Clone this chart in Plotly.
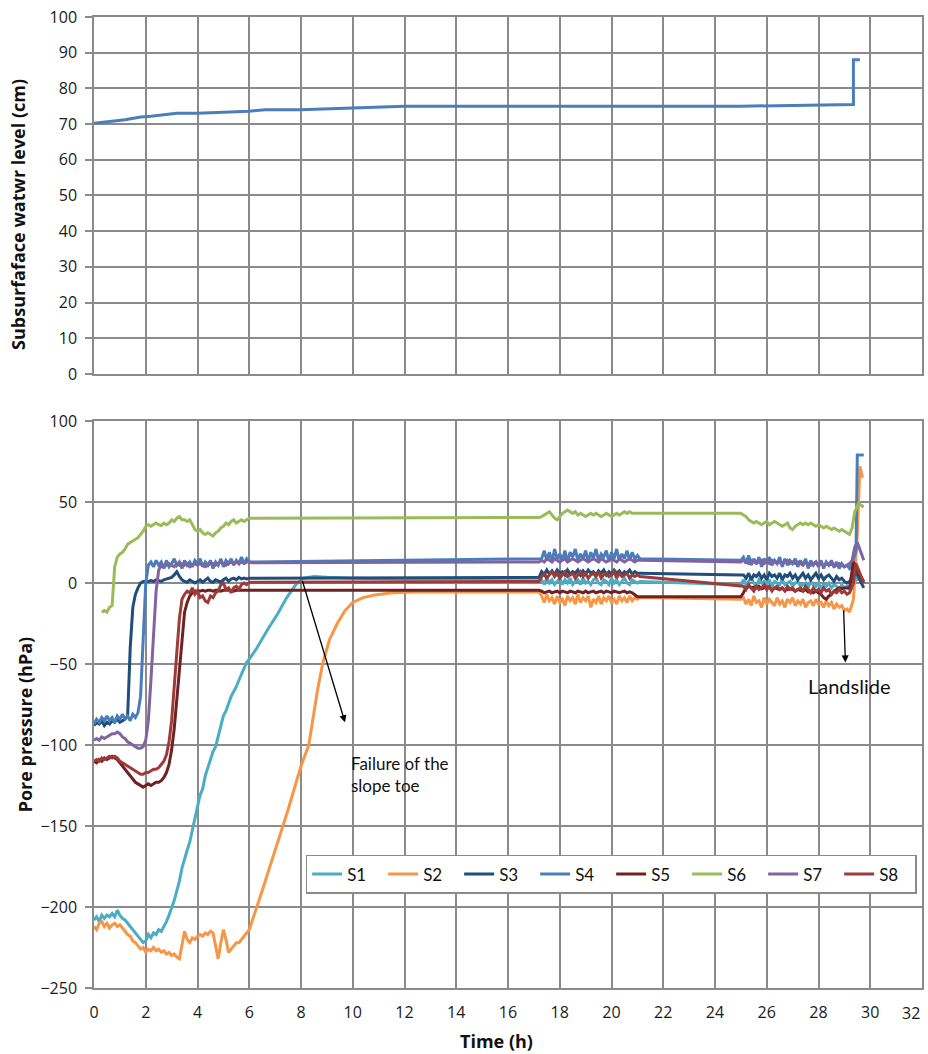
import plotly.graph_objects as go
from plotly.subplots import make_subplots

# ---------------- time bases (h) ----------------
T_EARLY = [0.0, 0.1, 0.2, 0.3, 0.4, 0.5, 0.6, 0.7, 0.8, 0.9,
           1.0, 1.1, 1.2, 1.3, 1.4, 1.5, 1.6, 1.7, 1.8, 1.9,
           2.0, 2.1, 2.2, 2.3, 2.4, 2.5, 2.6, 2.7, 2.8, 2.9,
           3.0, 3.1, 3.2, 3.3, 3.4, 3.5, 3.6, 3.7, 3.8, 3.9,
           4.0, 4.1, 4.2, 4.3, 4.4, 4.5, 4.6, 4.7, 4.8, 4.9,
           5.0, 5.1, 5.2, 5.3, 5.4, 5.5, 5.6, 5.7, 5.8, 5.9,
           6.0]
T_MID = [17.3, 17.4, 17.5, 17.6, 17.7, 17.8, 17.9, 18.0, 18.1, 18.2,
         18.3, 18.4, 18.5, 18.6, 18.7, 18.8, 18.9, 19.0, 19.1, 19.2,
         19.3, 19.4, 19.5, 19.6, 19.7, 19.8, 19.9, 20.0, 20.1, 20.2,
         20.3, 20.4, 20.5, 20.6, 20.7, 20.8, 20.9, 21.0]
T_LATE = [25.1, 25.2, 25.3, 25.4, 25.5, 25.6, 25.7, 25.8, 25.9, 26.0,
          26.1, 26.2, 26.3, 26.4, 26.5, 26.6, 26.7, 26.8, 26.9, 27.0,
          27.1, 27.2, 27.3, 27.4, 27.5, 27.6, 27.7, 27.8, 27.9, 28.0,
          28.1, 28.2, 28.3, 28.4, 28.5, 28.6, 28.7, 28.8, 28.9, 29.0,
          29.1, 29.2]

# x-axis ticks of the time axis (the last one sits at the right edge and is
# written right-aligned so it stays inside the page)
TIME_TICKS = [0, 2, 4, 6, 8, 10, 12, 14, 16, 18, 20, 22, 24, 26, 28, 30]
TIME_LABELS = ["0", "2", "4", "6", "8", "10", "12", "14", "16", "18",
               "20", "22", "24", "26", "28", "30"]
TIME_END = 32

# ---------------- subsurface water level (cm) ----------------
WL_T = [0.0, 1.2, 1.8, 2.2, 3.2, 4.0, 6.0, 6.6, 8.0, 10.0, 12.0, 25.0, 29.35, 29.35, 29.6]
WL = [70.2, 71.2, 72.0, 72.2, 73.0, 73.0, 73.6, 74.0, 74.0, 74.5, 75.0, 75.0, 75.5, 88.0, 88.0]

# ---------------- pore pressure (hPa) ----------------
S1_early = [-208, -206, -209, -205, -207, -205, -206, -204, -206, -202,
            -205, -207, -208, -210, -212, -214, -216, -218, -220, -222,
            -221, -217, -219, -216, -217, -214, -215, -212, -209, -205,
            -201, -196, -190, -184, -176, -170, -165, -160, -152, -145,
            -138, -131, -127, -119, -114, -110, -104, -101, -95, -89,
            -82, -79, -74, -70, -67, -64, -60, -56, -52, -49,
            -47]
S1_rise_t = [6.3, 6.7, 7.1, 7.45, 7.8, 8.1, 8.5, 9.0, 10.0, 12.0, 17.2]
S1_rise = [-40, -29, -19, -9, -1, 3, 4, 3.5, 3, 2.5, 3]
S1_mid = [2, -1, 3, 0, 2, -1, 1, 3, -1, 2,
          0, 3, -1, 1, 2, -1, 3, 0, 1, -1,
          2, 3, 0, -1, 2, 1, -1, 3, 0, 2,
          -1, 1, 3, 0, -1, 2, 1, 0]
S1_gap_t = [21.1, 25.0]
S1_gap = [1, -1]
S1_late = [2, -1, 1, 3, 0, -2, 2, 0, 1, -1,
           2, -2, 1, 0, -1, 2, -1, 0, 1, -2,
           0, 1, -2, -1, 0, -3, 1, -1, -2, 0,
           -3, -1, -2, 0, -3, -1, -2, -4, -1, -3,
           -2, -4]
S1_end_t = [29.3, 29.4, 29.5]
S1_end = [-3, 5, 1]

S2_early = [-212, -214, -210, -209, -212, -210, -213, -211, -210, -212,
            -211, -213, -215, -217, -218, -221, -222, -224, -226, -225,
            -228, -226, -227, -225, -227, -226, -228, -227, -229, -228,
            -230, -229, -231, -232, -224, -215, -220, -222, -219, -220,
            -218, -217, -218, -216, -217, -215, -216, -225, -232, -222,
            -214, -220, -228, -226, -224, -222, -222, -220, -218, -216,
            -214]
S2_rise_t = [6.5, 7.0, 7.5, 8.0, 8.3, 8.45, 8.65, 8.85, 9.1, 9.4, 9.7,
             10.0, 10.4, 10.8, 11.5, 12.5, 17.2]
S2_rise = [-190, -165, -140, -113, -100, -85, -65, -49, -35, -25, -17,
           -12, -9, -7.5, -6, -5.5, -5.5]
S2_mid = [-8, -12, -7, -11, -9, -13, -8, -12, -10, -14,
          -8, -11, -9, -13, -7, -12, -9, -11, -8, -15,
          -10, -12, -8, -13, -9, -11, -8, -12, -10, -13,
          -8, -11, -9, -12, -8, -11, -9, -10]
S2_gap_t = [21.1, 25.0]
S2_gap = [-9, -10]
S2_late = [-9, -13, -10, -14, -8, -12, -11, -15, -9, -13,
           -10, -12, -14, -9, -13, -11, -15, -10, -12, -9,
           -14, -11, -13, -10, -15, -12, -11, -14, -10, -13,
           -12, -15, -11, -14, -12, -16, -13, -15, -14, -17,
           -16, -18]
S2_end_t = [29.35, 29.5, 29.6, 29.7]
S2_end = [-10, 30, 72, 65]

S3_early = [-88, -86, -87, -85, -88, -86, -87, -85, -86, -84,
            -86, -85, -84, -82, -40, -15, -7, -3, 0, 1,
            1, 1, 1.5, 1, 2, 1.5, 1, 2, 2.5, 3,
            3.5, 5, 7, 4, 2, 1, 0.5, 2, 1, 0,
            1, 2, 0.5, 1.5, 3, 1, 0.5, 2, 1, 0.5,
            2, 3, 1, 2.5, 3, 2, 3.5, 2.5, 3, 2.5,
            3]
S3_rise_t = [6.1, 17.2]
S3_rise = [3, 3.5]
S3_mid = [7, 5, 8, 5.5, 7.5, 5, 8, 6, 7, 5,
          8, 5.5, 7, 6, 8, 5, 7.5, 5.5, 8, 6,
          7, 5, 7.5, 6, 8, 5, 7, 5.5, 8, 6,
          7.5, 5, 7, 6, 8, 5.5, 7, 6]
S3_gap_t = [21.1, 25.0]
S3_gap = [6, 5]
S3_late = [5, 3, 6, 2, 5, 4, 6, 3, 5, 2,
           6, 4, 5, 3, 6, 2, 5, 4, 6, 3,
           5, 2, 4, 6, 3, 5, 2, 4, 6, 3,
           5, 2, 4, 5, 3, 1, 4, 2, 3, 1,
           0, 1]
S3_end_t = [29.3, 29.4, 29.5, 29.6, 29.75]
S3_end = [3, 8, 5, 2, -3]

S4_early = [-87, -84, -86, -83, -85, -82, -85, -83, -86, -82,
            -84, -81, -84, -82, -85, -81, -83, -80, -70, -30,
            0, 11, 13, 10, 14, 11, 13, 9, 14, 10,
            12, 15, 11, 13, 9, 14, 11, 13, 10, 14,
            12, 15, 10, 13, 11, 14, 9, 13, 11, 15,
            10, 14, 12, 15, 11, 14, 12, 16, 12, 15,
            13]
S4_rise_t = [6.1, 17.2]
S4_rise = [13, 15]
S4_mid = [15, 20, 14, 19, 13, 21, 15, 18, 14, 20,
          13, 19, 16, 21, 14, 18, 15, 20, 13, 19,
          15, 21, 14, 18, 16, 20, 13, 19, 15, 21,
          14, 18, 15, 20, 14, 19, 15, 17]
S4_gap_t = [21.1, 25.0]
S4_gap = [15, 14]
S4_late = [16, 12, 17, 11, 15, 12, 16, 10, 15, 13,
           16, 11, 14, 12, 16, 10, 15, 11, 14, 12,
           15, 10, 14, 11, 15, 9, 14, 11, 13, 10,
           14, 9, 13, 11, 14, 10, 13, 9, 12, 10,
           11, 9]
S4_end_t = [29.3, 29.45, 29.5, 29.75]
S4_end = [12, 20, 79, 79]

S5_early = [-110, -111, -109, -110, -108, -109, -108, -107, -108, -109,
            -111, -113, -115, -117, -119, -121, -123, -124, -125, -126,
            -125, -124, -125, -124, -123, -123, -122, -120, -117, -112,
            -103, -90, -72, -50, -32, -18, -12, -8, -6, -5,
            -5, -5, -4.5, -5, -4.5, -4.5, -5, -4.5, -4.5, -5,
            -4.5, -4.5, -4.5, -4.5, -5, -4.5, -4.5, -4.5, -4.5, -4.5,
            -4.5]
S5_rise_t = [6.1, 17.2]
S5_rise = [-4.5, -4.5]
S5_mid = [-5, -6, -5.5, -5, -6, -5.5, -5, -6, -5, -5.5,
          -6, -5, -5.5, -6, -5, -5.5, -6, -5, -6, -5.5,
          -5, -6, -5.5, -5, -6, -5, -5.5, -6, -5, -5.5,
          -6, -5.5, -5, -6, -5.5, -6, -7, -8.5]
S5_gap_t = [21.1, 25.0]
S5_gap = [-8.5, -8.5]
S5_late = [-6, -3, -2, -3, -2.5, -3, -2, -3.5, -3, -2.5,
           -3, -4, -3, -3.5, -4, -3, -4.5, -4, -3.5, -4,
           -5, -4, -4.5, -5, -4, -5.5, -5, -6, -5, -6,
           -7, -9, -10, -8, -7, -5, -4, -3, -3.5, -3,
           -3, -3]
S5_end_t = [29.35, 29.5, 29.6, 29.75]
S5_end = [13, 8, 5, 1]

S6_early = [None, None, None, -18, -17, -18, -15, -14, 10, 16,
            18, 19, 21, 24, 25, 26, 27, 28, 30, 32,
            35, 36, 35, 36, 37, 36, 35.5, 37, 36, 37,
            39, 38, 40, 41, 39, 39, 38, 39, 36, 33,
            32, 33, 31, 30, 31, 30, 29, 31, 32, 34,
            35, 37, 36, 38, 39, 37, 38, 39, 38, 39,
            40]
S6_rise_t = [6.1, 17.2]
S6_rise = [40, 40.5]
S6_mid = [41, 42, 43, 44, 42, 40, 39, 41, 43, 44,
          45, 44, 43, 44, 42, 43, 42, 41, 42, 43,
          42, 43, 42, 41, 42, 43, 42, 41, 42, 43,
          42, 43, 44, 43, 44, 43, 43, 43]
S6_gap_t = [21.1, 25.0]
S6_gap = [43, 43]
S6_late = [42, 41, 39, 38, 37, 38, 37, 36, 37, 38,
           36, 37, 38, 37, 36, 35, 36, 37, 34, 33,
           35, 36, 37, 36, 37, 36, 37, 36, 35, 36,
           35, 34, 35, 34, 33, 34, 33, 32, 33, 32,
           31, 30]
S6_end_t = [29.3, 29.4, 29.55, 29.75]
S6_end = [34, 44, 49, 47]

S7_early = [-97, -96, -97, -95, -96, -95, -94, -93, -93, -92,
            -93, -95, -96, -98, -99, -100, -101, -102, -102, -101,
            -97, -85, -60, -30, -5, 8, 11, 10, 11, 12,
            11, 10, 12, 11, 12, 11, 12, 10, 11, 12,
            11, 12, 11, 10, 11, 12, 12, 11, 12, 13,
            12, 11, 12, 13, 12, 13, 12, 13, 12, 13,
            13]
S7_rise_t = [6.1, 17.2]
S7_rise = [12.5, 13]
S7_mid = [14, 13, 15, 14, 13, 15, 14, 13, 14, 15,
          13, 14, 15, 14, 13, 14, 15, 14, 13, 14,
          15, 14, 13, 15, 14, 13, 14, 15, 14, 13,
          15, 14, 13, 14, 15, 14, 13, 14]
S7_gap_t = [21.1, 25.0]
S7_gap = [14, 13]
S7_late = [14, 13, 12, 14, 13, 12, 13, 14, 12, 13,
           12, 14, 13, 12, 13, 12, 13, 14, 12, 13,
           12, 13, 12, 11, 13, 12, 11, 12, 13, 11,
           12, 11, 12, 11, 12, 10, 11, 12, 11, 10,
           11, 12]
S7_end_t = [29.3, 29.4, 29.5, 29.6, 29.75]
S7_end = [14, 22, 25, 20, 14]

S8_early = [-110, -109, -110, -108, -109, -108, -107, -108, -107, -108,
            -110, -111, -112, -113, -114, -115, -116, -117, -118, -118,
            -117, -117, -116, -115, -115, -114, -112, -110, -106, -98,
            -85, -65, -42, -22, -10, -7, -5, -6, -3, -7,
            -5, -9, -8, -11, -12, -8, -9, -6, -5, -1,
            0, -4, -3, -6, -3, -2, -4, -1, 0, -1,
            0.5]
S8_rise_t = [6.1, 17.2]
S8_rise = [0.5, 1]
S8_mid = [4, 6, 3, 5, 7, 4, 6, 3, 5, 7,
          4, 5, 6, 3, 5, 7, 4, 6, 3, 5,
          6, 4, 7, 3, 5, 6, 4, 5, 7, 3,
          6, 4, 5, 6, 3, 5, 4, 5]
S8_gap_t = [21.1, 25.0]
S8_gap = [4, -2]
S8_late = [-2, -4, -1, -3, -5, -2, -4, -3, -1, -4,
           -2, -5, -3, -2, -4, -3, -5, -2, -4, -3,
           -5, -4, -3, -5, -2, -4, -6, -3, -5, -4,
           -6, -3, -5, -4, -7, -5, -6, -4, -6, -5,
           -7, -6]
S8_end_t = [29.35, 29.45, 29.6, 29.75]
S8_end = [0, 12, 6, 0]

NAMES = ["S1", "S2", "S3", "S4", "S5", "S6", "S7", "S8"]
COLORS = ["#4BACC6", "#F79646", "#1F4E7A", "#4A7EBB",
          "#702222", "#9BBB59", "#8064A2", "#9E3B39"]

SERIES = {
    "S1": (S1_early, S1_rise_t, S1_rise, S1_mid, S1_gap_t, S1_gap, S1_late, S1_end_t, S1_end),
    "S2": (S2_early, S2_rise_t, S2_rise, S2_mid, S2_gap_t, S2_gap, S2_late, S2_end_t, S2_end),
    "S3": (S3_early, S3_rise_t, S3_rise, S3_mid, S3_gap_t, S3_gap, S3_late, S3_end_t, S3_end),
    "S4": (S4_early, S4_rise_t, S4_rise, S4_mid, S4_gap_t, S4_gap, S4_late, S4_end_t, S4_end),
    "S5": (S5_early, S5_rise_t, S5_rise, S5_mid, S5_gap_t, S5_gap, S5_late, S5_end_t, S5_end),
    "S6": (S6_early, S6_rise_t, S6_rise, S6_mid, S6_gap_t, S6_gap, S6_late, S6_end_t, S6_end),
    "S7": (S7_early, S7_rise_t, S7_rise, S7_mid, S7_gap_t, S7_gap, S7_late, S7_end_t, S7_end),
    "S8": (S8_early, S8_rise_t, S8_rise, S8_mid, S8_gap_t, S8_gap, S8_late, S8_end_t, S8_end),
}


def assemble(name):
    early, rt, rv, mid, gt, gv, late, et, ev = SERIES[name]
    for label, vals, base in (("early", early, T_EARLY), ("mid", mid, T_MID), ("late", late, T_LATE)):
        if len(vals) != len(base):
            raise ValueError(f"{name} {label}: {len(vals)} values for {len(base)} times")
    x = T_EARLY + rt + T_MID + gt + T_LATE + et
    y = early + rv + mid + gv + late + ev
    # leading gaps (sensor not yet logging) are dropped
    pts = [(a, b) for a, b in zip(x, y) if b is not None]
    return [p[0] for p in pts], [p[1] for p in pts]


TICK_FONT = "'Open Sans', sans-serif"
TEXT_FONT = "Lato, 'Open Sans', sans-serif"
GRID = "#8a8a8a"
tick_font = dict(family=TICK_FONT, size=16, color="#1a1a1a")

fig = make_subplots(rows=2, cols=1, shared_xaxes=False, vertical_spacing=0.0)

fig.add_trace(go.Scatter(x=WL_T, y=WL, mode="lines", showlegend=False,
                         line=dict(color="#4A7EBB", width=3)), row=1, col=1)

for name, color in zip(NAMES, COLORS):
    xs, ys = assemble(name)
    fig.add_trace(go.Scatter(x=xs, y=ys, mode="lines", name=name,
                             line=dict(color=color, width=3)), row=2, col=1)

axis_common = dict(showgrid=True, gridcolor=GRID, gridwidth=1.5,
                   showline=True, linecolor=GRID, linewidth=1.5, mirror=True,
                   zeroline=False, tickfont=tick_font)

fig.update_xaxes(range=[0, TIME_END], dtick=2, tick0=0, showticklabels=False,
                 domain=[0, 1], **axis_common, row=1, col=1)
fig.update_xaxes(range=[0, TIME_END], tickmode="array", tickvals=TIME_TICKS, ticktext=TIME_LABELS,
                 ticks="", ticklabelstandoff=9, automargin=False,
                 domain=[0, 1], **axis_common, row=2, col=1)
fig.update_yaxes(range=[0, 100], dtick=10, ticks="outside", ticklen=7, tickcolor=GRID,
                 tickwidth=1.5, ticklabelstandoff=5,
                 domain=[0.6324, 1.0], **axis_common, row=1, col=1)
fig.update_yaxes(range=[-250, 100], dtick=50, ticks="outside", ticklen=7, tickcolor=GRID,
                 tickwidth=1.5, ticklabelstandoff=5,
                 domain=[0.0, 0.5839], **axis_common, row=2, col=1)

# vertical gridline at the last tick (not in TIME_TICKS) comes from the mirrored frame

title_font = dict(family=TICK_FONT, size=18, color="#111")
note_font = dict(family=TEXT_FONT, size=17, color="#111")
annotations = [
    dict(text="<b>Subsurfaface watwr level (cm)</b>", xref="paper", yref="paper",
         x=-0.092, y=0.797, textangle=-90, showarrow=False, font=title_font,
         xanchor="center", yanchor="middle"),
    dict(text="<b>Pore pressure (hPa)</b>", xref="paper", yref="paper",
         x=-0.084, y=0.272, textangle=-90, showarrow=False, font=title_font,
         xanchor="center", yanchor="middle"),
    dict(text="<b>Time (h)</b>", xref="paper", yref="paper",
         x=0.486, y=-0.0546, showarrow=False, font=title_font,
         xanchor="center", yanchor="middle"),
    # last time-axis label, right-aligned at the axis end
    dict(text=str(TIME_END), xref="x2", yref="paper", x=TIME_END, y=-0.0257,
         showarrow=False, xanchor="right", yanchor="middle", font=tick_font),
    # failure of the slope toe
    dict(x=9.7, y=-86, ax=8.04, ay=2, xref="x2", yref="y2", axref="x2", ayref="y2",
         text="", showarrow=True, arrowhead=2, arrowsize=1.1, arrowwidth=1.3,
         arrowcolor="#000"),
    dict(x=9.85, y=-118, xref="x2", yref="y2", text="Failure of the<br>slope toe",
         showarrow=False, xanchor="left", yanchor="middle", align="left",
         font=note_font),
    # landslide
    dict(x=29.04, y=-49, ax=28.97, ay=-16, xref="x2", yref="y2", axref="x2", ayref="y2",
         text="", showarrow=True, arrowhead=2, arrowsize=1.1, arrowwidth=1.3,
         arrowcolor="#000"),
    dict(x=29.2, y=-63.5, xref="x2", yref="y2", text="Landslide",
         showarrow=False, xanchor="center", yanchor="middle",
         font=dict(family=TEXT_FONT, size=20, color="#111")),
]

fig.update_layout(
    width=928, height=1054,
    margin=dict(l=94, r=6, t=17, b=66, autoexpand=False),
    paper_bgcolor="white", plot_bgcolor="white",
    annotations=annotations,
    legend=dict(orientation="h", x=0.2556, y=0.137, xanchor="left", yanchor="top",
                bgcolor="white", bordercolor=GRID, borderwidth=1.5,
                entrywidth=31, entrywidthmode="pixels", itemwidth=30,
                font=dict(family=TEXT_FONT, size=17, color="#111"),
                tracegroupgap=0),
)

fig.write_html("out.html")
